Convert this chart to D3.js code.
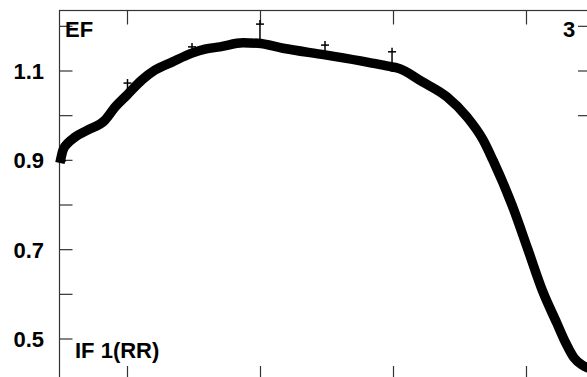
<!DOCTYPE html>
<html>
<head>
<meta charset="utf-8">
<script src="https://cdn.jsdelivr.net/npm/d3@7"></script>
<style>
  body { margin: 0; background: #fff; }
  text { font-family: "Liberation Sans", Arial, sans-serif; font-weight: bold; }
</style>
</head>
<body>
<div class="chart"></div>
<script>
// Curve samples (x in axis units, y value)
const curveX = [0.492, 0.515, 0.553, 0.605, 0.703, 0.831, 0.906, 0.996, 1.109, 1.207, 1.335,
  1.485, 1.583, 1.695, 1.868, 1.981, 2.169, 2.485, 2.801, 2.989, 3.026, 3.222, 3.402, 3.553,
  3.673, 3.748, 3.891, 4.011, 4.124, 4.229, 4.297, 4.357, 4.417, 4.455, 4.49];
const curveY = [0.894, 0.923, 0.939, 0.952, 0.968, 0.990, 1.019, 1.046, 1.080, 1.102, 1.120,
  1.140, 1.149, 1.154, 1.163, 1.162, 1.151, 1.136, 1.120, 1.109, 1.107, 1.075, 1.042, 0.997,
  0.946, 0.900, 0.800, 0.700, 0.605, 0.535, 0.490, 0.458, 0.442, 0.436, 0.433];

// Measured points with error bars
const pointX = [0.508, 1.0, 1.485, 1.996, 2.485, 2.989];
const pointY = [0.899, 1.073, 1.154, 1.205, 1.158, 1.143];
const pointLow = [0.899, 1.046, 1.140, 1.160, 1.136, 1.109];

// Tick values
const xTicks = [1, 2, 3, 4];
const yTicks = [1.2, 1.1, 1.0, 0.9, 0.8, 0.7, 0.6, 0.5];
const yLabels = [1.1, 0.9, 0.7, 0.5];
const rightTicks = [1.2, 1.1, 1.0];

const W = 587, H = 377;
const box = { left: 59.5, right: 591, top: 10.5, bottom: 380 };

const svg = d3.select(".chart")
  .append("svg")
  .attr("width", W)
  .attr("height", H);

const x = d3.scaleLinear().domain([0.4887, 4.485]).range([box.left, box.right]);
const y = d3.scaleLinear().domain([1.1, 0.5]).range([71, 339]);

drawFrame();
drawCurve();
drawPoints();
drawLabels();

//A function that draws the box and the inward ticks
function drawFrame() {
  const g = svg.append("g").attr("stroke", "#333").attr("stroke-width", 1.2);

  g.append("rect")
    .attr("x", box.left).attr("y", box.top)
    .attr("width", box.right - box.left).attr("height", box.bottom - box.top)
    .attr("fill", "none");

  // left ticks
  g.selectAll(".yl").data(yTicks).enter().append("line")
    .attr("x1", box.left).attr("x2", box.left + 13)
    .attr("y1", function (d) { return y(d); })
    .attr("y2", function (d) { return y(d); });

  // right ticks
  g.selectAll(".yr").data(rightTicks).enter().append("line")
    .attr("x1", box.right - 13).attr("x2", box.right)
    .attr("y1", function (d) { return y(d); })
    .attr("y2", function (d) { return y(d); });

  // top and bottom ticks
  g.selectAll(".xt").data(xTicks).enter().append("line")
    .attr("x1", function (d) { return x(d); })
    .attr("x2", function (d) { return x(d); })
    .attr("y1", box.top).attr("y2", box.top + 14);

  g.selectAll(".xb").data(xTicks).enter().append("line")
    .attr("x1", function (d) { return x(d); })
    .attr("x2", function (d) { return x(d); })
    .attr("y1", box.bottom - 14).attr("y2", box.bottom);

  // left tick labels
  svg.selectAll(".ylab").data(yLabels).enter().append("text")
    .attr("x", 44)
    .attr("y", function (d) { return y(d) + 8; })
    .attr("text-anchor", "end")
    .style("font-size", "22px")
    .text(function (d) { return d3.format(".1f")(d); });
}

//A function that draws the thick curve
function drawCurve() {
  const data = curveX.map(function (d, i) { return [d, curveY[i]]; });
  const line = d3.line()
    .x(function (d) { return x(d[0]); })
    .y(function (d) { return y(d[1]); })
    .curve(d3.curveMonotoneX);

  svg.append("path")
    .datum(data)
    .attr("d", line)
    .attr("fill", "none")
    .attr("stroke", "#000")
    .attr("stroke-width", 9.5);
}

//A function that draws the crosses with error bars
function drawPoints() {
  const g = svg.append("g").attr("stroke", "#000").attr("stroke-width", 1.5);
  pointX.forEach(function (px, i) {
    const cx = x(px), cy = y(pointY[i]);
    g.append("line")
      .attr("x1", cx).attr("x2", cx)
      .attr("y1", cy - 4).attr("y2", y(pointLow[i]));
    g.append("line")
      .attr("x1", cx - 4).attr("x2", cx + 4)
      .attr("y1", cy).attr("y2", cy);
  });
}

//A function that draws the panel labels
function drawLabels() {
  svg.append("text").attr("x", 65).attr("y", 37)
    .style("font-size", "22px").text("EF");
  svg.append("text").attr("x", 563).attr("y", 37)
    .style("font-size", "22px").text("3");
  svg.append("text").attr("x", 75).attr("y", 358)
    .style("font-size", "22px").text("IF 1(RR)");
}
</script>
</body>
</html>
